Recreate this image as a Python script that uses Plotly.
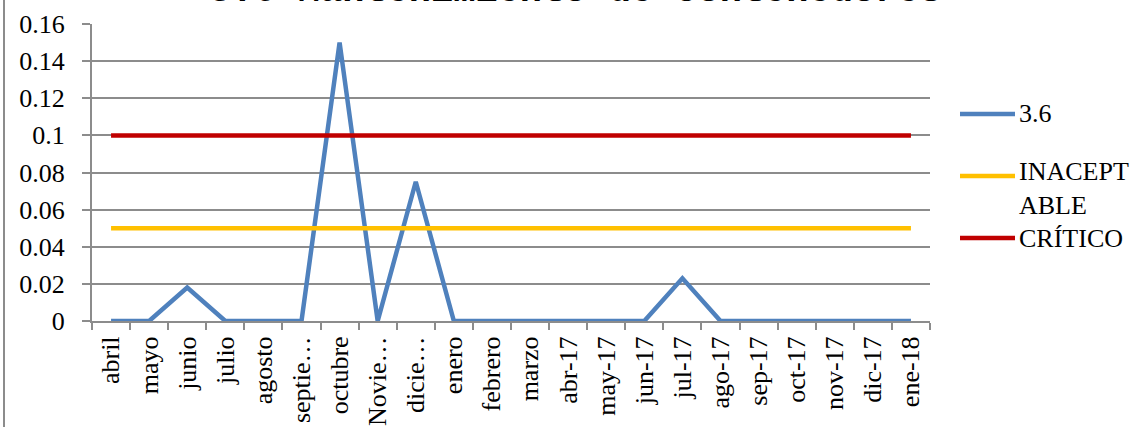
import plotly.graph_objects as go

# Datos del gráfico
meses = ["abril", "mayo", "junio", "julio", "agosto", "septie…", "octubre",
         "Novie…", "dicie…", "enero", "febrero", "marzo", "abr-17", "may-17",
         "jun-17", "jul-17", "ago-17", "sep-17", "oct-17", "nov-17", "dic-17",
         "ene-18"]
serie_36 = [0, 0, 0.018, 0, 0, 0, 0.15, 0, 0.075, 0, 0, 0, 0, 0, 0, 0.023,
            0, 0, 0, 0, 0, 0]
inaceptable = [0.05, 0.05, 0.05, 0.05, 0.05, 0.05, 0.05, 0.05, 0.05, 0.05, 0.05,
               0.05, 0.05, 0.05, 0.05, 0.05, 0.05, 0.05, 0.05, 0.05, 0.05, 0.05]
critico = [0.1, 0.1, 0.1, 0.1, 0.1, 0.1, 0.1, 0.1, 0.1, 0.1, 0.1,
           0.1, 0.1, 0.1, 0.1, 0.1, 0.1, 0.1, 0.1, 0.1, 0.1, 0.1]
y_ticks = [0, 0.02, 0.04, 0.06, 0.08, 0.1, 0.12, 0.14, 0.16]
y_labels = ["0", "0.02", "0.04", "0.06", "0.08", "0.1", "0.12", "0.14", "0.16"]

titulo = "3.6 Mantenimiento de contenedores"
series = [
    ("3.6", serie_36, "#4F81BD"),
    ("INACEPTABLE", inaceptable, "#FFC000"),
    ("CRÍTICO", critico, "#C00000"),
]

W, H = 1135, 427
L, R, T, B = 92, 205, 24, 106
PW, PH = W - L - R, H - T - B


def px(x):
    return (x - L) / PW


def py(y):
    return (H - B - y) / PH


GRIS = "#8C8C8C"
FUENTE = dict(family="Liberation Serif, Times New Roman, serif", size=26,
              color="black")

fig = go.Figure()
for nombre, valores, color in series:
    fig.add_trace(go.Scatter(
        x=meses, y=valores, mode="lines", name=nombre,
        line=dict(color=color, width=4.5), showlegend=False,
    ))

# Leyenda dibujada a mano (espaciado estilo Excel)
leyenda_y = [114, 188.5, 238]
leyenda_txt = ["3.6", "INACEPT<br>ABLE", "CRÍTICO"]
linea_y = [114, 176, 238]
for (nombre, _, color), ty, txt, ly in zip(series, leyenda_y, leyenda_txt, linea_y):
    fig.add_shape(type="line", xref="paper", yref="paper",
                  x0=px(960), x1=px(1015), y0=py(ly), y1=py(ly),
                  line=dict(color=color, width=4.5))
    fig.add_annotation(text=txt, xref="paper", yref="paper", x=px(1017), y=py(ty),
                       xanchor="left", yanchor="middle", showarrow=False,
                       align="left", font=FUENTE)

# Título (cortado en la parte superior como en el original)
fig.add_annotation(text="<b>" + titulo + "</b>", xref="paper", yref="paper",
                   x=px(575), y=py(14), xanchor="center", yanchor="bottom",
                   showarrow=False,
                   font=dict(family="Liberation Mono", size=37, color="black"))

# Borde izquierdo del área del gráfico
fig.add_shape(type="line", xref="paper", yref="paper",
              x0=px(4), x1=px(4), y0=py(H), y1=py(0),
              line=dict(color=GRIS, width=2))

fig.update_layout(
    width=W, height=H,
    margin=dict(l=L, r=R, t=T, b=B),
    paper_bgcolor="white", plot_bgcolor="white",
    font=FUENTE,
    xaxis=dict(
        type="category", range=[-0.5, len(meses) - 0.5], automargin=False,
        showgrid=False, showline=True, linecolor=GRIS, linewidth=2,
        ticks="outside", tickson="boundaries", ticklen=7, tickcolor=GRIS,
        tickwidth=2, tickangle=-90, tickfont=FUENTE, ticklabelstandoff=3,
    ),
    yaxis=dict(
        range=[0, 0.16], tickvals=y_ticks, ticktext=y_labels, automargin=False,
        showgrid=True, gridcolor=GRIS, gridwidth=2,
        showline=True, linecolor=GRIS, linewidth=2,
        ticks="outside", ticklen=8, tickcolor=GRIS, tickwidth=2,
        tickfont=FUENTE, zeroline=False, ticklabelstandoff=12,
    ),
)

# quitar el margen del body para que la figura empiece en (0, 0)
fig.write_html("out.html", config={"displayModeBar": False},
               post_script="document.body.style.margin='0';"
                           "document.body.style.overflow='hidden';")
